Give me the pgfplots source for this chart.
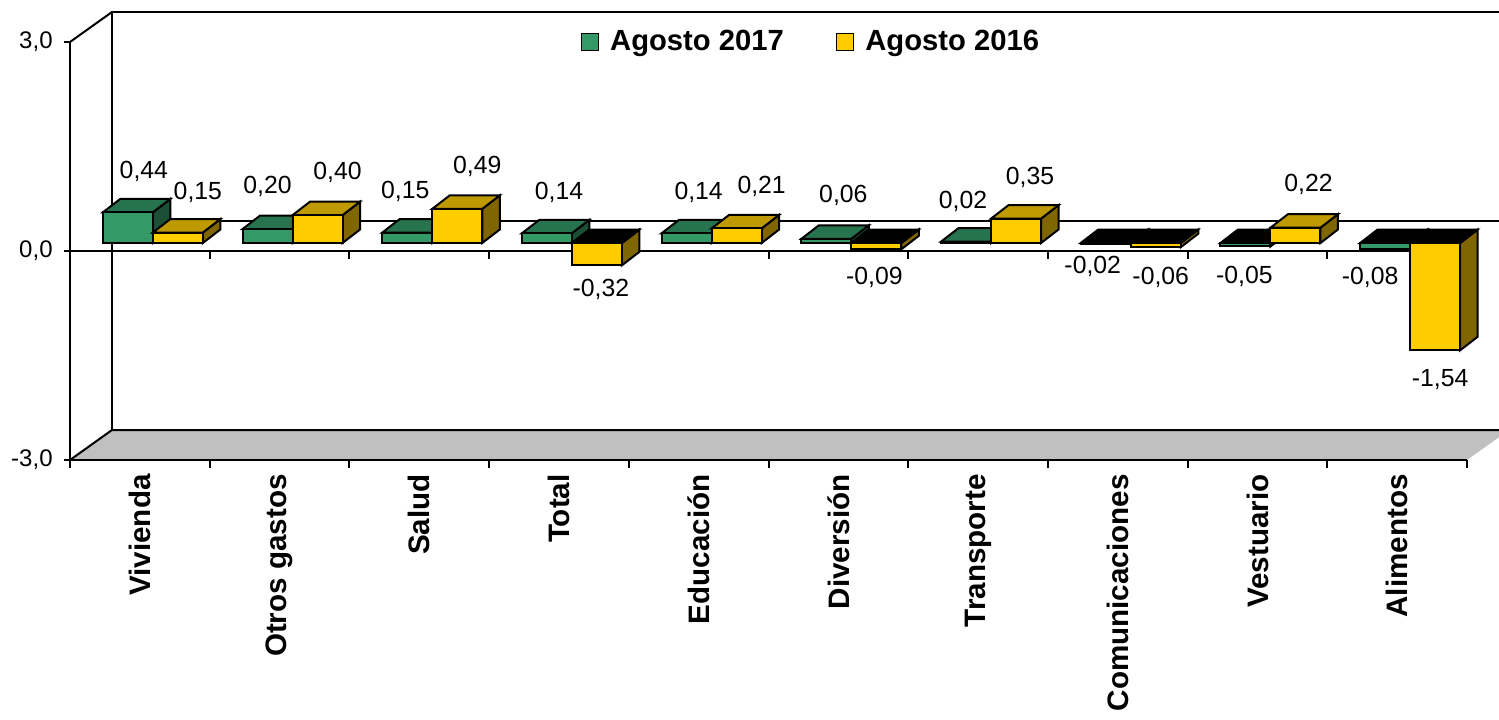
\documentclass[border=0pt]{standalone}
\usepackage{fontspec}
\setmainfont{Liberation Sans}
\usepackage{pgfplots}
\usepackage{pgfplotstable}
\pgfplotsset{compat=1.18}

\definecolor{gF}{RGB}{51,153,102}
\definecolor{gT}{RGB}{38,115,77}
\definecolor{gS}{RGB}{28,80,54}
\definecolor{yF}{RGB}{255,204,0}
\definecolor{yT}{RGB}{191,153,0}
\definecolor{yS}{RGB}{128,102,0}
\definecolor{floorgray}{RGB}{192,192,192}

% c = category centre, v = value, lx/ly = label offset (pt)
\pgfplotstableread{
c   v     lx     ly
0.5 0.44  2      24.5
1.5 0.20  -6     25.5
2.5 0.15  -7     24.75
3.5 0.14  0      24.5
4.5 0.14  0      24.5
5.5 0.06  2.5    25.5
6.5 0.02  -7.5   24
7.5 -0.02 -12.5  -6.8
8.5 -0.05 -6.5   -10.75
9.5 -0.08 -13.5  -10.2
}\tgreen
\pgfplotstableread{
c   v     lx     ly
0.5 0.15  29     24.25
1.5 0.40  29     25.5
2.5 0.49  29     25
3.5 -0.32 21     -7.85
4.5 0.21  31.5   25
5.5 -0.09 18     -9.85
6.5 0.35  26     24.8
7.5 -0.06 21.5   -10.9
8.5 0.22  25.5   25.85
9.5 -1.54 21.5   -10.85
}\tyellow

\def\yunit{34.8333}
\def\bw{25}\def\bdx{8.75}\def\bdy{6.75}
% #1 left offset of front face (pt), #2 front, #3 top, #4 side colour
\newcommand\drawbar[4]{%
  \pgfmathsetmacro\bya{4-\barv*\yunit}%
  \pgfmathsetmacro\bxl{#1}%
  \pgfmathsetmacro\bxr{#1+\bw}%
  \pgfmathsetmacro\bxlb{#1+\bdx}%
  \pgfmathsetmacro\bxrb{#1+\bw+\bdx}%
  \pgfmathsetmacro\byab{\bya+\bdy}%
  \pgfmathsetmacro\byvb{4+\bdy}%
  \pgfmathsetmacro\bytop{max(4,\bya)}%
  \pgfmathsetmacro\bytopb{\bytop+\bdy}%
  \pgfmathtruncatemacro\bisneg{\barv<0}%
  \ifnum\bisneg=1 \def\btc{black}\else\def\btc{#3}\fi
  \filldraw[draw=black,line width=1pt,fill=#4] (\bxr pt,\bya pt) -- (\bxr pt,4pt) -- (\bxrb pt,\byvb pt) -- (\bxrb pt,\byab pt) -- cycle;
  \filldraw[draw=black,line width=1pt,fill=\btc] (\bxl pt,\bytop pt) -- (\bxr pt,\bytop pt) -- (\bxrb pt,\bytopb pt) -- (\bxlb pt,\bytopb pt) -- cycle;
  \filldraw[draw=black,line width=1pt,fill=#2] (\bxl pt,\bya pt) rectangle (\bxr pt,4pt);
}
\pgfdeclareplotmark{barG}{\drawbar{-18.5}{gF}{gT}{gS}}
\pgfdeclareplotmark{barY}{\drawbar{6.5}{yF}{yT}{yS}}

\begin{document}
\begin{tikzpicture}
\useasboundingbox (0,0) rectangle (749.5pt,359.5pt);
\begin{axis}[
    at={(35pt,129.5pt)}, anchor=south west,
    scale only axis, width=698.5pt, height=209pt,
    xmin=0, xmax=10, ymin=-3, ymax=3,
    clip=false, axis on top,
    axis x line*=bottom, axis y line*=left,
    axis line style={line width=1pt},
    major tick length=0pt,
    xtick={0.5,1.5,...,9.5},
    xticklabels={Vivienda,Otros gastos,Salud,Total,Educación,Diversión,Transporte,Comunicaciones,Vestuario,Alimentos},
    xticklabel style={yshift=-7pt, rotate=90, anchor=east, inner sep=0pt, font=\bfseries\fontsize{14.8}{16}\selectfont},
    ytick={-3,0,3},
    yticklabels={{-3,0},{0,0},{3,0}},
    yticklabel style={anchor=east, inner sep=0pt, xshift=-8.5pt, font=\fontsize{12}{14}\selectfont},
    legend columns=2,
    legend style={at={(axis cs:5.31,3)}, anchor=center, draw=none, fill=none,
      font=\bfseries\fontsize{14.6}{16}\selectfont,
      /tikz/every odd column/.append style={column sep=3.5pt},
      /tikz/every even column/.append style={column sep=24pt}},
    /pgf/number format/.cd, fixed, fixed zerofill, precision=2, use comma, assume math mode=true,
    /pgfplots/.cd,
    every node near coord/.append style={anchor=center, inner sep=0pt, text=black,
      xshift=\lx pt, yshift=\ly pt, font=\fontsize{12.4}{14}\selectfont},
]
% floor and walls
\fill[floorgray] (0,-3) -- (0.3006,-2.5694) -- (10.3006,-2.5694) -- (10,-3) -- cycle;
\draw[line width=1pt] (0,-3) -- (0.3006,-2.5694) -- (10.6,-2.5694);
\draw[line width=1pt] (0.3006,-2.5694) -- (0.3006,3.4306) -- (10.6,3.4306);
\draw[line width=1pt] (0,3) -- (0.3006,3.4306);
\draw[line width=1pt] (0.3006,0.4306) -- (10.6,0.4306);

\addplot[only marks, mark=barG,
    visualization depends on={\thisrow{v} \as \barv},
    visualization depends on={\thisrow{lx} \as \lx},
    visualization depends on={\thisrow{ly} \as \ly},
    nodes near coords, point meta=y,
    legend image code/.code={\draw[line width=0.8pt, fill=gF] (0pt,-4.25pt) rectangle (8.5pt,4.25pt);}]
    table[x=c, y=v] {\tgreen};
\addlegendentry{Agosto 2017}
\addplot[only marks, mark=barY,
    visualization depends on={\thisrow{v} \as \barv},
    visualization depends on={\thisrow{lx} \as \lx},
    visualization depends on={\thisrow{ly} \as \ly},
    nodes near coords, point meta=y,
    legend image code/.code={\draw[line width=0.8pt, fill=yF] (0pt,-4.25pt) rectangle (8.5pt,4.25pt);}]
    table[x=c, y=v] {\tyellow};
\addlegendentry{Agosto 2016}

% front zero line and ticks
\draw[line width=1pt] (0,0) -- (10,0);
\pgfplotsinvokeforeach{1,...,10}{\draw[line width=1pt] (#1,0) -- ++(0pt,-4pt);}
\pgfplotsinvokeforeach{0,...,10}{\draw[line width=1pt] (#1,-3) -- ++(0pt,-4pt);}
\pgfplotsinvokeforeach{-3,0,3}{\draw[line width=1pt] (0,#1) -- ++(-3pt,0pt);}
\end{axis}
\end{tikzpicture}
\end{document}
